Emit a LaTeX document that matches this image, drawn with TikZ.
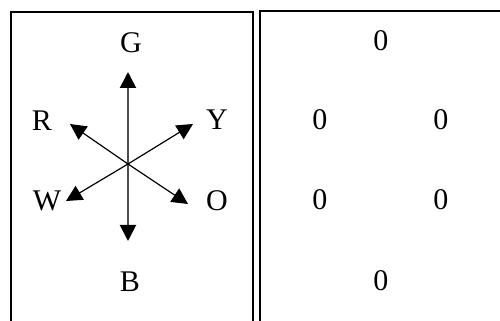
\documentclass[tikz,border=0pt]{standalone}
\usepackage{fontspec}
\setmainfont{Liberation Serif}
\usetikzlibrary{arrows.meta}

\begin{document}
\begin{tikzpicture}[x=0.5pt, y=-0.5pt, font=\fontsize{15}{17}\selectfont, line join=miter,
    frame/.style={line width=1pt, black},
    ray/.style={line width=0.6pt, -{Triangle[length=8pt, width=8pt, black]}},
    label/.style={inner sep=0pt}]

    % Keep the page at the reference size
    \useasboundingbox (0,0) rectangle (500,321);
    \clip (0,0) rectangle (500,321);

    % ==========================================
    % TWO OPEN BOXES
    % ==========================================
    \draw[frame] (11,330) -- (11,12) -- (253,12) -- (253,330);
    \draw[frame] (260,330) -- (260,11) -- (510,11);

    % ==========================================
    % LEFT BOX: SIX DIRECTIONS
    % ==========================================
    \coordinate (C) at (128,164);
    \coordinate (tipG) at (128,72);
    \coordinate (tipB) at (128,241);
    \coordinate (tipR) at (70,124);
    \coordinate (tipY) at (193,124);
    \coordinate (tipW) at (66,201);
    \coordinate (tipO) at (188,204);

    \draw[ray, line width=1pt, black!70] (C) -- (tipG);
    \draw[ray, line width=1pt, black!70] (C) -- (tipB);
    \draw[ray] (C) -- (tipR);
    \draw[ray] (C) -- (tipY);
    \draw[ray] (C) -- (tipW);
    \draw[ray] (C) -- (tipO);

    \node[label] (G) at (131,43) {G};
    \node[label] (B) at (130,282) {B};
    \node[label] (R) at (42,121) {R};
    \node[label] (Y) at (217,120) {Y};
    \node[label] (W) at (47,201) {W};
    \node[label] (O) at (217,201) {O};

    % ==========================================
    % RIGHT BOX: ZEROS
    % ==========================================
    \node[label] (zT)  at (381,41)  {0};
    \node[label] (zRL) at (320,120) {0};
    \node[label] (zRR) at (441,120) {0};
    \node[label] (zWL) at (320,200) {0};
    \node[label] (zWR) at (441,200) {0};
    \node[label] (zB)  at (381,281) {0};

\end{tikzpicture}
\end{document}
